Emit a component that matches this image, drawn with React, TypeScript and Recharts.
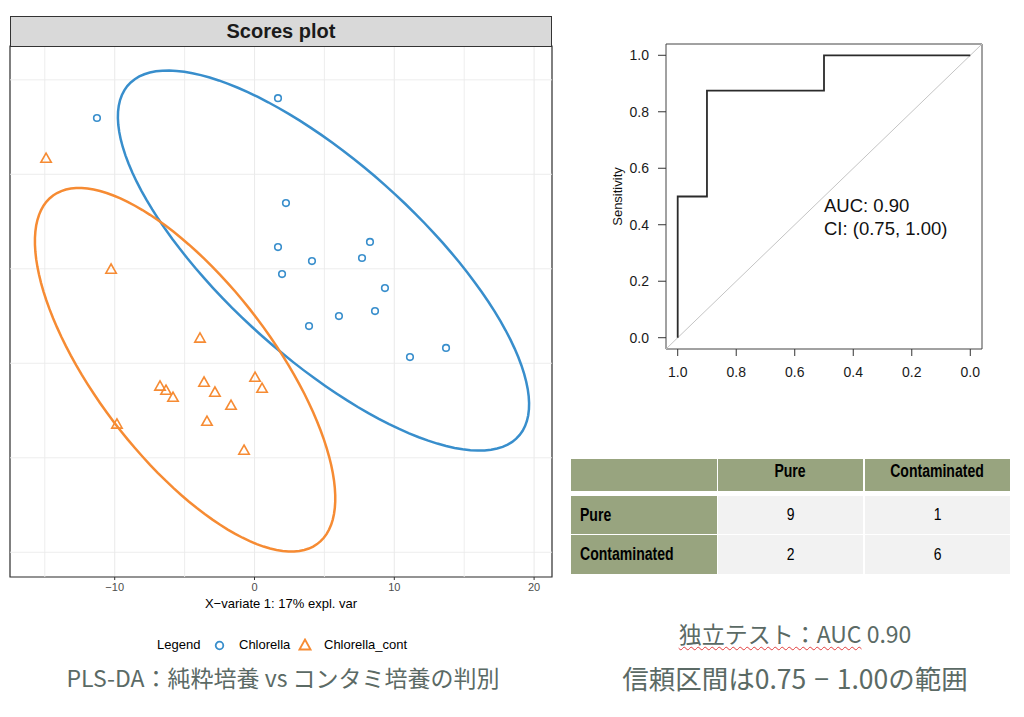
import React from 'react';
import {
  ScatterChart,
  Scatter,
  XAxis,
  YAxis,
  CartesianGrid,
  ReferenceLine,
  ReferenceArea,
  ReferenceDot,
  ComposedChart,
  Line,
} from 'recharts';

// ---------- Scores plot data (PLS-DA components) ----------
const chlorellaX = [-11.27, 1.68, 2.25, 1.68, 1.97, 4.11, 8.26, 7.69, 9.33, 8.62, 6.04, 3.9, 11.12, 13.7];
const chlorellaY = [10.48, 11.53, 5.98, 3.65, 2.22, 2.91, 3.92, 3.07, 1.48, 0.26, 0.0, -0.53, -2.17, -1.69];
const contX = [-14.91, -10.26, -3.9, -6.76, -6.33, -5.83, -3.61, -2.83, 0.04, 0.54, -1.68, -3.4, -9.84, -0.75];
const contY = [8.36, 2.49, -1.16, -3.7, -3.92, -4.29, -3.49, -4.02, -3.23, -3.81, -4.71, -5.56, -5.71, -7.09];

const scoreXTicks = [-10, 0, 10, 20];
const scoreXMinor = [-15, -5, 5, 15];
const scoreYTicks = [-10, -5, 0, 5, 10];
const scoreYMinor = [-12.5, -7.5, -2.5, 2.5, 7.5, 12.5];
const scoreXDomain = [-17.49, 21.28];
const scoreYDomain = [-13.81, 14.29];
const seriesNames = ['Chlorella', 'Chlorella_cont'];

// ---------- ROC data ----------
const rocSpecificity = [1, 1, 0.9, 0.9, 0.5, 0.5, 0];
const rocSensitivity = [0, 0.5, 0.5, 0.875, 0.875, 1, 1];
const rocTicks = [0, 0.2, 0.4, 0.6, 0.8, 1];
const rocDomain = [-0.04, 1.04];
const aucText = ['AUC: 0.90', 'CI: (0.75, 1.00)'];

// ---------- Confusion table ----------
const tableCols = ['Pure', 'Contaminated'];
const tableRows = ['Pure', 'Contaminated'];
const tableValues = [
  [9, 1],
  [2, 6],
];

const BLUE = '#388ECC';
const ORANGE = '#F68B33';
const GRID = '#EBEBEB';
const R_FONT = '"Liberation Sans", Arial, Helvetica, sans-serif';
const JP = '"Noto Sans CJK JP", "Noto Sans", sans-serif';
const JP_COLOR = '#5b6a65';

// 95% confidence ellipse computed from group scores (as mixOmics / ellipse package)
function confidenceEllipse(xs: number[], ys: number[], n = 120) {
  const m = xs.length;
  const mx = xs.reduce((a, b) => a + b, 0) / m;
  const my = ys.reduce((a, b) => a + b, 0) / m;
  let sxx = 0,
    syy = 0,
    sxy = 0;
  for (let i = 0; i < m; i++) {
    sxx += (xs[i] - mx) ** 2;
    syy += (ys[i] - my) ** 2;
    sxy += (xs[i] - mx) * (ys[i] - my);
  }
  sxx /= m - 1;
  syy /= m - 1;
  sxy /= m - 1;
  const t = Math.sqrt(5.991464547107979);
  const sx = Math.sqrt(sxx);
  const sy = Math.sqrt(syy);
  const d = Math.acos(sxy / (sx * sy));
  const pts: { x: number; y: number }[] = [];
  for (let i = 0; i <= n; i++) {
    const a = (2 * Math.PI * i) / n;
    pts.push({ x: mx + t * sx * Math.cos(a + d / 2), y: my + t * sy * Math.cos(a - d / 2) });
  }
  return pts;
}

const chlorellaData = chlorellaX.map((x, i) => ({ x, y: chlorellaY[i] }));
const contData = contX.map((x, i) => ({ x, y: contY[i] }));
const chlorellaEllipse = confidenceEllipse(chlorellaX, chlorellaY);
const contEllipse = confidenceEllipse(contX, contY);
const rocData = rocSpecificity.map((s, i) => ({ spec: s, sens: rocSensitivity[i] }));

const CircleShape = (p: any) => (
  <circle cx={p.cx} cy={p.cy} r={3.3} fill="none" stroke={BLUE} strokeWidth={1.6} />
);
const TriangleShape = (p: any) => (
  <path
    d={`M${p.cx},${p.cy - 5} L${p.cx + 5.2},${p.cy + 4.2} L${p.cx - 5.2},${p.cy + 4.2} Z`}
    fill="none"
    stroke={ORANGE}
    strokeWidth={1.6}
  />
);
const NoShape = () => <g />;

const fmtMinus = (v: number) => (v < 0 ? `\u2212${Math.abs(v)}` : `${v}`);

function ScoresPlot() {
  return (
    <div style={{ position: 'absolute', left: 0, top: 0, width: 560, height: 620 }}>
      <ScatterChart width={560} height={620} margin={{ top: 46, right: 8, left: 10, bottom: 23 }}>
        <CartesianGrid stroke={GRID} strokeWidth={1.1} />
        {scoreXMinor.map((v) => (
          <ReferenceLine key={`vx${v}`} x={v} stroke={GRID} strokeWidth={0.9} />
        ))}
        {scoreYMinor.map((v) => (
          <ReferenceLine key={`hy${v}`} y={v} stroke={GRID} strokeWidth={0.9} />
        ))}
        <XAxis
          type="number"
          dataKey="x"
          domain={scoreXDomain}
          allowDataOverflow
          ticks={scoreXTicks}
          tickFormatter={fmtMinus}
          tick={{ fontSize: 11, fill: '#4D4D4D', fontFamily: R_FONT }}
          tickLine={{ stroke: '#333' }}
          tickSize={3}
          tickMargin={3}
          axisLine={false}
          height={20}
        />
        <YAxis
          type="number"
          dataKey="y"
          domain={scoreYDomain}
          allowDataOverflow
          ticks={scoreYTicks}
          tick={false}
          tickLine={{ stroke: '#333' }}
          tickSize={3}
          axisLine={false}
          width={0}
        />
        <Scatter name={seriesNames[0]} data={chlorellaData} shape={CircleShape} isAnimationActive={false} />
        <Scatter name={seriesNames[1]} data={contData} shape={TriangleShape} isAnimationActive={false} />
        <Scatter
          data={chlorellaEllipse}
          line={{ stroke: BLUE, strokeWidth: 2.5 }}
          shape={NoShape}
          isAnimationActive={false}
        />
        <Scatter
          data={contEllipse}
          line={{ stroke: ORANGE, strokeWidth: 2.5 }}
          shape={NoShape}
          isAnimationActive={false}
        />
        <ReferenceArea
          x1={scoreXDomain[0]}
          x2={scoreXDomain[1]}
          y1={scoreYDomain[0]}
          y2={scoreYDomain[1]}
          fill="none"
          fillOpacity={0}
          stroke="#333"
          strokeWidth={1.2}
        />
      </ScatterChart>
      <div
        style={{
          position: 'absolute',
          left: 10,
          top: 16,
          width: 542,
          height: 31,
          boxSizing: 'border-box',
          background: '#D9D9D9',
          border: '1px solid #333',
          textAlign: 'center',
          fontFamily: R_FONT,
          fontWeight: 'bold',
          fontSize: 20,
          lineHeight: '29px',
          color: '#1A1A1A',
        }}
      >
        Scores plot
      </div>
      <div
        style={{
          position: 'absolute',
          left: 10,
          top: 596,
          width: 542,
          textAlign: 'center',
          fontFamily: R_FONT,
          fontSize: 13,
          lineHeight: '16px',
          color: '#000',
        }}
      >
        X{'\u2212'}variate 1: 17% expl. var
      </div>
    </div>
  );
}

function LegendRow() {
  const txt: React.CSSProperties = {
    position: 'absolute',
    top: 637,
    fontFamily: R_FONT,
    fontSize: 13,
    lineHeight: '16px',
    color: '#000',
    whiteSpace: 'nowrap',
  };
  return (
    <>
      <span style={{ ...txt, left: 157 }}>Legend</span>
      <svg style={{ position: 'absolute', left: 213, top: 639 }} width={13} height={13}>
        <circle cx={6.5} cy={6.5} r={3.8} fill="none" stroke={BLUE} strokeWidth={1.8} />
      </svg>
      <span style={{ ...txt, left: 239 }}>{seriesNames[0]}</span>
      <svg style={{ position: 'absolute', left: 298, top: 638 }} width={14} height={14}>
        <path d="M7,1.5 L12.5,11.5 L1.5,11.5 Z" fill="none" stroke={ORANGE} strokeWidth={1.8} />
      </svg>
      <span style={{ ...txt, left: 324 }}>{seriesNames[1]}</span>
    </>
  );
}

function RocPlot() {
  const AucLabel = (p: any) => (
    <g>
      <text x={p.cx} y={p.cy + 15} fontSize={18.5} fontFamily={R_FONT} fill="#111">
        {aucText[0]}
      </text>
      <text x={p.cx} y={p.cy + 38} fontSize={18.5} fontFamily={R_FONT} fill="#111">
        {aucText[1]}
      </text>
    </g>
  );
  const YLabel = (p: any) => {
    const vb = p.viewBox || { x: 16, y: 24, width: 60, height: 305 };
    const x = vb.x + 11;
    const y = vb.y + vb.height / 2;
    return (
      <text
        x={x}
        y={y}
        transform={`rotate(-90 ${x} ${y})`}
        textAnchor="middle"
        dominantBaseline="central"
        fontSize={13}
        fontFamily={R_FONT}
        fill="#111"
      >
        Sensitivity
      </text>
    );
  };
  return (
    <div style={{ position: 'absolute', left: 590, top: 20, width: 400, height: 380 }}>
      <ComposedChart width={400} height={380} data={rocData} margin={{ top: 24, right: 8, left: 16, bottom: 21 }}>
        <XAxis
          type="number"
          dataKey="spec"
          domain={rocDomain}
          reversed
          allowDataOverflow
          ticks={rocTicks}
          tickFormatter={(v: number) => v.toFixed(1)}
          tick={{ fontSize: 14, fill: '#1a1a1a', fontFamily: R_FONT }}
          tickLine={{ stroke: '#333' }}
          tickSize={7}
          tickMargin={11}
          axisLine={false}
          height={30}
        />
        <YAxis
          type="number"
          domain={rocDomain}
          allowDataOverflow
          ticks={rocTicks}
          tickFormatter={(v: number) => v.toFixed(1)}
          tick={{ fontSize: 14, fill: '#1a1a1a', fontFamily: R_FONT }}
          tickLine={{ stroke: '#333' }}
          tickSize={8}
          tickMargin={9}
          axisLine={false}
          width={60}
          label={{ content: YLabel }}
        />
        <ReferenceLine
          segment={[
            { x: rocDomain[1], y: rocDomain[0] },
            { x: rocDomain[0], y: rocDomain[1] },
          ]}
          stroke="#C4C4C4"
          strokeWidth={1}
        />
        <Line
          type="linear"
          dataKey="sens"
          stroke="#2b2b2b"
          strokeWidth={1.8}
          dot={false}
          isAnimationActive={false}
        />
        <ReferenceDot x={0.5} y={0.5} r={0} shape={AucLabel} />
        <ReferenceArea
          x1={rocDomain[0]}
          x2={rocDomain[1]}
          y1={rocDomain[0]}
          y2={rocDomain[1]}
          fill="none"
          fillOpacity={0}
          stroke="#444"
          strokeWidth={1}
        />
      </ComposedChart>
    </div>
  );
}

function Narrow({ children, origin, scale }: { children: React.ReactNode; origin: string; scale: number }) {
  return (
    <span style={{ display: 'inline-block', transform: `scaleX(${scale})`, transformOrigin: origin }}>
      {children}
    </span>
  );
}

function ConfusionTable() {
  const colX = [571, 718, 865];
  const colW = [146, 145, 145];
  const rowY = [459, 496, 535];
  const rowH = [32, 38, 39];
  const GREEN = '#98A47F';
  const LIGHT = '#F2F2F2';
  const cells: React.ReactNode[] = [];
  const base: React.CSSProperties = {
    position: 'absolute',
    boxSizing: 'border-box',
    display: 'flex',
    alignItems: 'center',
    fontFamily: R_FONT,
    color: '#000',
    whiteSpace: 'nowrap',
  };
  cells.push(
    <div key="h0" style={{ ...base, left: colX[0], top: rowY[0], width: colW[0], height: rowH[0], background: GREEN }} />
  );
  tableCols.forEach((c, j) => {
    cells.push(
      <div
        key={`h${j + 1}`}
        style={{
          ...base,
          left: colX[j + 1],
          top: rowY[0],
          width: colW[j + 1],
          height: rowH[0],
          background: GREEN,
          justifyContent: 'center',
          fontWeight: 'bold',
          fontSize: 18,
          paddingBottom: 8,
        }}
      >
        <Narrow origin="center" scale={0.78}>
          {c}
        </Narrow>
      </div>
    );
  });
  tableRows.forEach((r, i) => {
    cells.push(
      <div
        key={`r${i}`}
        style={{
          ...base,
          left: colX[0],
          top: rowY[i + 1],
          width: colW[0],
          height: rowH[i + 1],
          background: GREEN,
          paddingLeft: 9,
          fontWeight: 'bold',
          fontSize: 18,
        }}
      >
        <Narrow origin="left center" scale={0.78}>
          {r}
        </Narrow>
      </div>
    );
    tableValues[i].forEach((v, j) => {
      cells.push(
        <div
          key={`c${i}${j}`}
          style={{
            ...base,
            left: colX[j + 1],
            top: rowY[i + 1],
            width: colW[j + 1],
            height: rowH[i + 1],
            background: LIGHT,
            justifyContent: 'center',
            fontSize: 17,
          }}
        >
          <Narrow origin="center" scale={0.82}>
            {v}
          </Narrow>
        </div>
      );
    });
  });
  return <>{cells}</>;
}

function Captions() {
  const common: React.CSSProperties = {
    position: 'absolute',
    fontFamily: JP,
    color: JP_COLOR,
    whiteSpace: 'nowrap',
    textAlign: 'center',
    transform: 'translate(-50%, -50%)',
  };
  return (
    <>
      <div style={{ ...common, left: 283, top: 677, fontSize: 23, lineHeight: '30px' }}>
        PLS-DA：純粋培養 vs コンタミ培養の判別
      </div>
      <div style={{ ...common, left: 795, top: 633, fontSize: 23, lineHeight: '28px' }}>
        <span
          style={{
            textDecorationLine: 'underline',
            textDecorationStyle: 'wavy',
            textDecorationColor: '#e23c3c',
            textDecorationThickness: '1px',
            textUnderlineOffset: '3px',
          }}
        >
          独立テスト：AUC
        </span>{' '}
        0.90
      </div>
      <div style={{ ...common, left: 795, top: 678, fontSize: 26.5, lineHeight: '32px', wordSpacing: 2 }}>
        信頼区間は0.75 {'\u2212'} 1.00の範囲
      </div>
    </>
  );
}

export default function App() {
  return (
    <div
      style={{
        position: 'absolute',
        left: 0,
        top: 0,
        width: 1024,
        height: 717,
        background: '#fff',
        overflow: 'hidden',
      }}
    >
      <ScoresPlot />
      <LegendRow />
      <RocPlot />
      <ConfusionTable />
      <Captions />
    </div>
  );
}
